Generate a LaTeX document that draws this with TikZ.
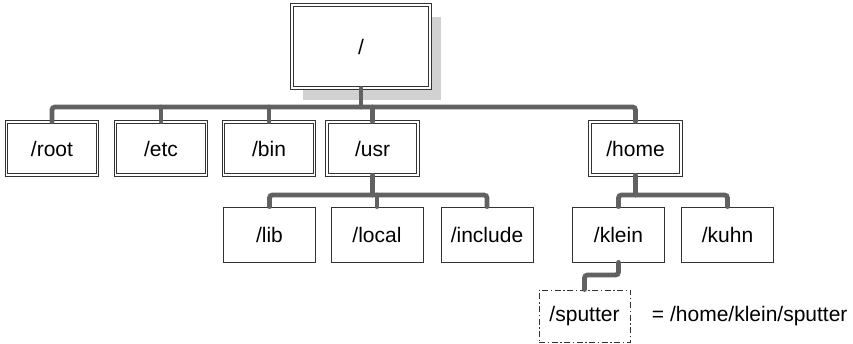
\documentclass[tikz,border=0pt]{standalone}
\usepackage{fontspec}
\setmainfont{Liberation Sans}
\usetikzlibrary{positioning,shadows}
\newcommand{\dirw}{91pt}
\newcommand{\dirh}{53pt}

\begin{document}
\begin{tikzpicture}[x=1pt,y=-1pt,
    dir/.style={draw=black!80, fill=white, line width=0.8pt, minimum width=\dirw, minimum height=\dirh,
      inner sep=0pt, font=\fontsize{21}{25}\selectfont},
    sysdir/.style={dir, line width=0.9pt, double=white, double distance=1.6pt},
    subdir/.style={dir, minimum width=92pt, minimum height=55pt},
    linkdir/.style={subdir, minimum width=91pt, minimum height=52pt, line width=0.9pt,
      dash pattern=on 6pt off 2.5pt on 1.5pt off 2.5pt},
    branch/.style={draw=black!62, line width=4.8pt, line cap=round, rounded corners=3pt}]
  %\draw[help lines] (0,0) grid[step=20] (853,344);
  \useasboundingbox (0,0) rectangle (853,344);

  % root of the tree
  \node[sysdir, minimum width=138pt, minimum height=83pt,
    drop shadow={shadow xshift=11pt, shadow yshift=-12pt, fill=black!18, opacity=1}]
    (slash) at (361,46.5) {/};

  % first level
  \node[sysdir] (root) at (52,148.5) {/root};
  \node[sysdir] (etc) at (161,148.5) {/etc};
  \node[sysdir] (bin) at (269,148.5) {/bin};
  \node[sysdir] (usr) at (372.5,148.5) {/usr};
  \node[sysdir] (home) at (635.5,148.5) {/home};

  % second level
  \node[subdir] (lib) at (269.5,234.5) {/lib};
  \node[subdir] (local) at (377,234.5) {/local};
  \node[subdir] (include) at (487,234.5) {/include};
  \node[subdir] (klein) at (618.5,234.5) {/klein};
  \node[subdir] (kuhn) at (727.5,234.5) {/kuhn};

  % working directory
  \node[linkdir] (sputter) at (584.5,316) {/sputter};
  \node[right=18pt of sputter, font=\fontsize{21}{25}\selectfont] (path) {= /home/klein/sputter};

  % branches
  \coordinate (top) at (0,107);
  \coordinate (mid) at (0,195);
  \coordinate (low) at (0,275);
  \draw[branch] (root.north) -- (root.north |- top) -| (home.north);
  \draw[branch] (slash.south) -- (slash.south |- top);
  \foreach \d in {etc,bin,usr}
    \draw[branch] (\d.north) -- (\d.north |- top);

  \draw[branch] (lib.north) -- (lib.north |- mid) -| (include.north);
  \draw[branch] (usr.south) -- (usr.south |- mid);
  \draw[branch] (local.north) -- (local.north |- mid);

  \draw[branch] (klein.north) -- (klein.north |- mid) -| (kuhn.north);
  \draw[branch] (home.south) -- (home.south |- mid);

  \draw[branch] (klein.south) -- (klein.south |- low) -| (sputter.north);
\end{tikzpicture}
\end{document}
